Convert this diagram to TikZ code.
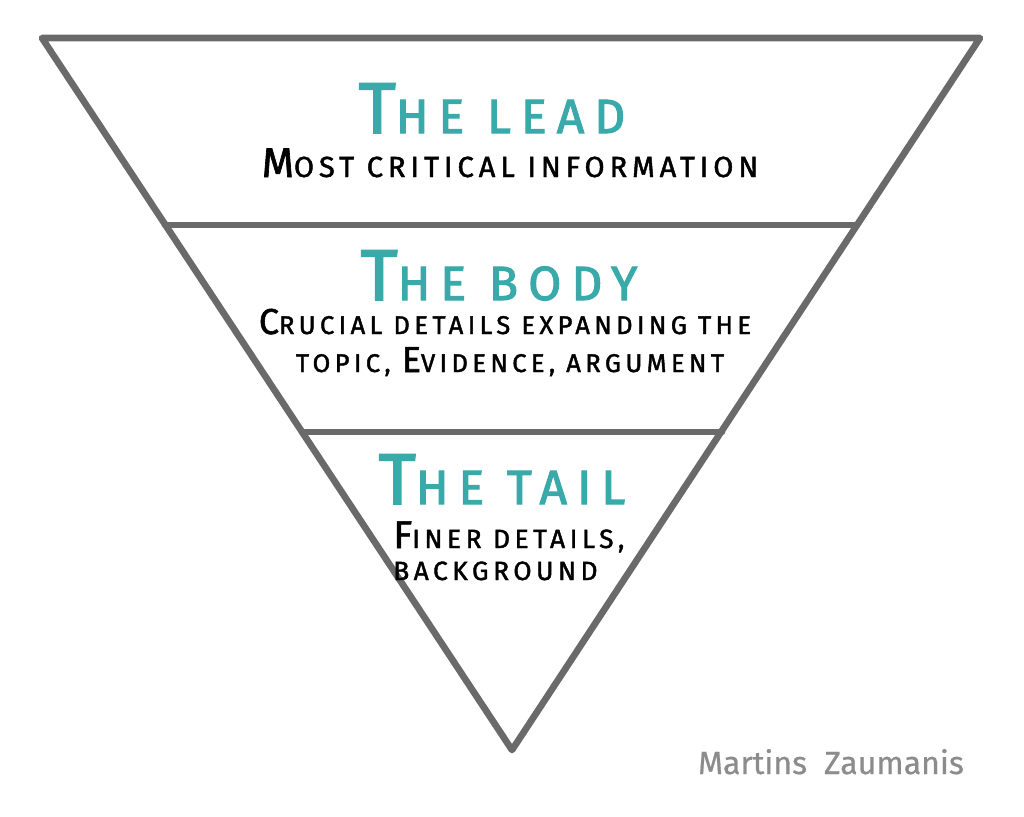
\documentclass[tikz,border=0pt]{standalone}
\usepackage{fontspec}
\setmainfont{Fira Sans}
\newfontfamily\titlefont{Fira Sans}[FakeBold=2.2, LetterSpace=21]
\newfontfamily\descfont{Fira Sans}[FakeBold=1.6, LetterSpace=17]
\newfontfamily\signfont{Fira Sans}[FakeBold=0.6]
\definecolor{teal1}{HTML}{3AA9AA}
\definecolor{edge}{HTML}{6A6A6A}
\definecolor{sig}{HTML}{8C8C8C}
\newcommand{\tbig}[1]{{\fontsize{54}{58}\selectfont #1}}
\newcommand{\sbig}[1]{{\fontsize{31}{32}\selectfont #1}}
\newcommand{\sbigb}[1]{{\fontsize{27}{30}\selectfont #1}}
\newcommand{\sbigc}[1]{{\fontsize{29}{30}\selectfont #1}}
\tikzset{
  frame/.style={draw=edge, line width=5pt, line join=round, line cap=round},
  title/.style={text=teal1, font=\titlefont\fontsize{36}{40}\selectfont, anchor=base, inner sep=0pt},
  desc/.style={text=black, font=\descfont\fontsize{21.8}{28}\selectfont, anchor=base, inner sep=0pt},
  descb/.style={desc, font=\descfont\fontsize{19.2}{26}\selectfont},
  descc/.style={desc, font=\descfont\fontsize{19.8}{26}\selectfont},
  sign/.style={text=sig, font=\signfont\fontsize{24}{28}\selectfont, anchor=base, inner sep=0pt}
}
\begin{document}
\begin{tikzpicture}[x=0.75pt,y=-0.75pt]
\useasboundingbox[fill=white] (0,0) rectangle (1024,817);
\coordinate (tl) at (42,38);
\coordinate (tr) at (980,38);
\coordinate (ap) at (512,750);
\coordinate (d1l) at (165,225);
\coordinate (d1r) at (857,225);
\coordinate (d2l) at (302,432);
\coordinate (d2r) at (722,432);
\draw[frame] (tl) -- (tr) -- (ap) -- cycle;
\draw[frame] (d1l) -- (d1r);
\draw[frame] (d2l) -- (d2r);
\node[title] (lead) at (492,133) {\tbig{T}HE LEAD};
\node[desc] (leadtxt) at (510,177) {\sbig{M}OST CRITICAL INFORMATION};
\node[title] (body) at (499,300) {\tbig{T}HE BODY};
\node[descb] (bodytxt1) at (505,334) {\sbigb{C}RUCIAL DETAILS EXPANDING THE};
\node[descb] (bodytxt2) at (510,372) {TOPIC, \sbigb{E}VIDENCE, ARGUMENT};
\node[title] (tail) at (502,504) {\tbig{T}HE TAIL};
\node[descc, anchor=base west] (tailtxt1) at (393,548) {\sbigc{F}INER DETAILS,};
\node[descc, anchor=base west] (tailtxt2) at (393,580) {BACKGROUND};
\node[sign] (author) at (831,774) {Martins\ \ Zaumanis};
\end{tikzpicture}
\end{document}
